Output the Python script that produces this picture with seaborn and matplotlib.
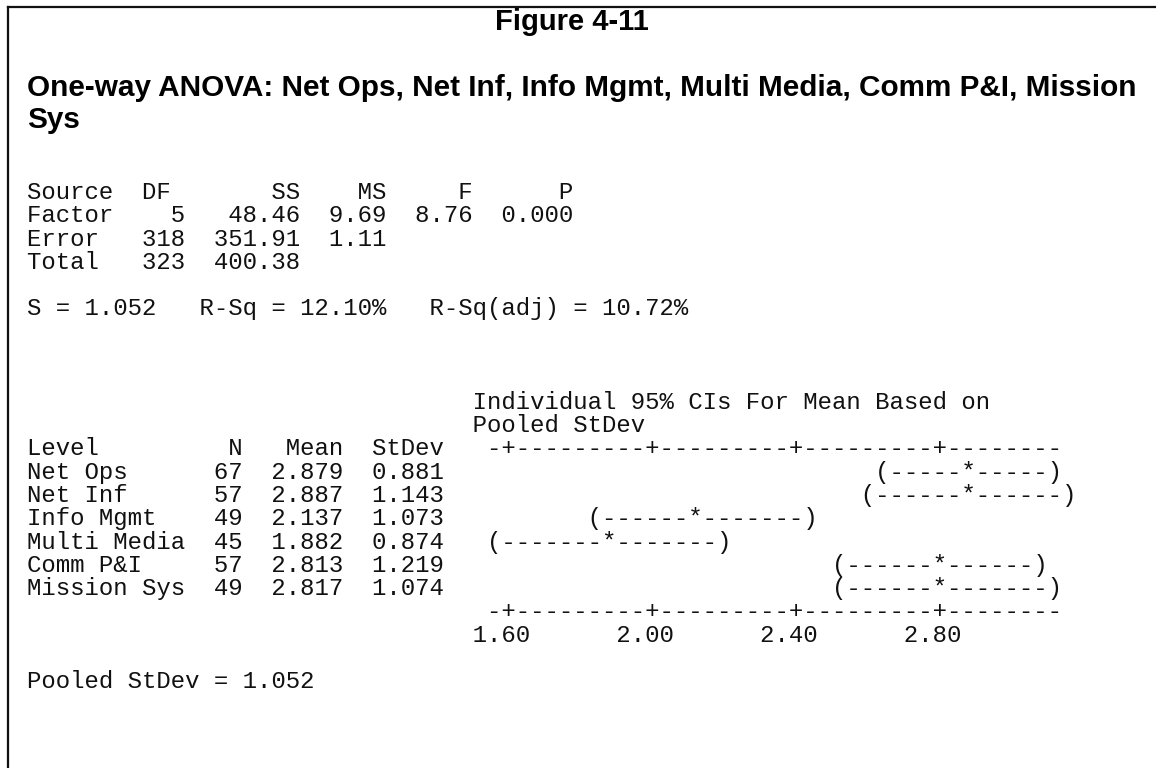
import matplotlib
matplotlib.use("Agg")
import matplotlib.pyplot as plt
import seaborn as sns

# text of the figure
fig_title = "Figure 4-11"
heading = ["One-way ANOVA: Net Ops, Net Inf, Info Mgmt, Multi Media, Comm P&I, Mission",
           "Sys"]

# ANOVA table
sources = ["Factor", "Error", "Total"]
dfs = [5, 318, 323]
ss = [48.46, 351.91, 400.38]
ms = [9.69, 1.11, None]
f_vals = [8.76, None, None]
p_vals = [0.000, None, None]

s_val = 1.052
r_sq = 12.10
r_sq_adj = 10.72

# level summary
levels = ["Net Ops", "Net Inf", "Info Mgmt", "Multi Media", "Comm P&I", "Mission Sys"]
n_obs = [67, 57, 49, 45, 57, 49]
means = [2.879, 2.887, 2.137, 1.882, 2.813, 2.817]
stdevs = [0.881, 1.143, 1.073, 0.874, 1.219, 1.074]
pooled_sd = 1.052
ticks = [1.60, 2.00, 2.40, 2.80]
t_crit = 1.9675  # t(0.975, df=318)

sns.set_theme(style="white")
plt.rcParams['font.family'] = ['Liberation Mono', 'DejaVu Sans Mono']

fig = plt.figure(figsize=(11.56, 7.68), dpi=100)
ax = fig.add_axes([0, 0, 1, 1])
ax.set_xlim(0, 1156)
ax.set_ylim(768, 0)
ax.axis('off')

# frame: left and top edge only
frame = fig.add_axes([8 / 1156, 0, 1, (768 - 7) / 768])
frame.set_xticks([])
frame.set_yticks([])
frame.patch.set_alpha(0)
for side in ['right', 'bottom']:
    frame.spines[side].set_visible(False)
for side in ['left', 'top']:
    frame.spines[side].set_color('#111111')
    frame.spines[side].set_linewidth(1.6)

bold = dict(family=['Liberation Sans', 'DejaVu Sans'], fontweight='bold',
            color='black', va='baseline')
ax.text(572, 30.5, fig_title, ha='center', fontsize=21, **bold)
ax.text(27, 95.5, heading[0], ha='left', fontsize=21.4, **bold)
ax.text(27, 128.5, heading[1], ha='left', fontsize=21.4, **bold)

x0 = 27
y0 = 192
lh = 23.3


def put(k, s):
    ax.text(x0, y0 + k * lh + 7, s, fontsize=17.28, color='#111111', va='baseline', ha='left')


# ANOVA table
put(0, f"{'Source':<8}{'DF':<2}{'SS':>9}{'MS':>6}{'F':>6}{'P':>7}")
for i, src in enumerate(sources):
    row = f"{src:<8}{dfs[i]:>3}{ss[i]:>8.2f}"
    if ms[i] is not None:
        row += f"{ms[i]:>6.2f}"
    if f_vals[i] is not None:
        row += f"{f_vals[i]:>6.2f}{p_vals[i]:>7.3f}"
    put(1 + i, row)

put(5, f"S = {s_val:.3f}   R-Sq = {r_sq:.2f}%   R-Sq(adj) = {r_sq_adj:.2f}%")

# text-plot of the confidence intervals
ci_col = 32
step = (ticks[1] - ticks[0]) / 10
axis_chars = ['-'] * 40
for i in range(len(ticks)):
    axis_chars[1 + 10 * i] = '+'
axis_line = ''.join(axis_chars)


def to_col(v):
    return 1 + int(round((v - ticks[0]) / step))


put(9, ' ' * (ci_col - 1) + "Individual 95% CIs For Mean Based on")
put(10, ' ' * (ci_col - 1) + "Pooled StDev")
header = f"{'Level':<11}{'N':>4}{'Mean':>7}{'StDev':>7}"
put(11, f"{header:<{ci_col}}" + axis_line)
for i, lev in enumerate(levels):
    half = t_crit * pooled_sd / n_obs[i] ** 0.5
    lo = to_col(means[i] - half)
    mid = to_col(means[i])
    hi = to_col(means[i] + half)
    bar = [' '] * (hi + 1)
    for c in range(lo + 1, hi):
        bar[c] = '-'
    bar[lo] = '('
    bar[mid] = '*'
    bar[hi] = ')'
    row = f"{lev:<11}{n_obs[i]:>4}{means[i]:>7.3f}{stdevs[i]:>7.3f}"
    put(12 + i, f"{row:<{ci_col}}" + ''.join(bar))
put(18, ' ' * ci_col + axis_line)
labels = ' ' * (ci_col - 1)
for t in ticks:
    labels += f"{t:<10.2f}"
put(19, labels.rstrip())

put(21, f"Pooled StDev = {pooled_sd:.3f}")

fig.savefig("out.png", dpi=100)
plt.close(fig)
